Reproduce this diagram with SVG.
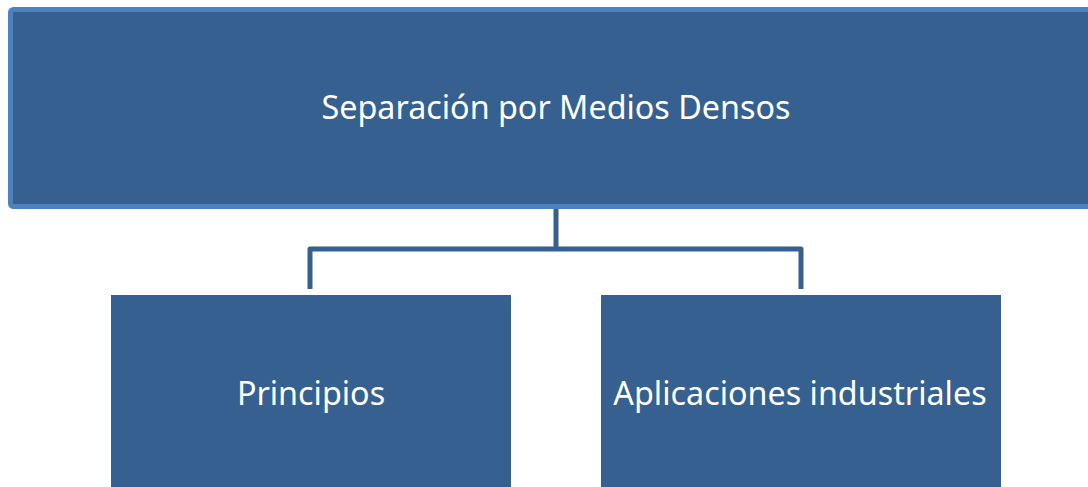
<svg xmlns="http://www.w3.org/2000/svg" width="1088" height="487" viewBox="0 0 1088 487">
<style>
.box{fill:#366090;}
.lbl{font-family:"Noto Sans","Liberation Sans",sans-serif;font-size:32.3px;fill:#ffffff;text-anchor:middle;}
.conn{fill:none;stroke:#366090;stroke-width:5;stroke-linejoin:round;}
</style>
<rect width="1088" height="487" fill="#ffffff"/>
<g id="connectors">
<path class="conn" d="M556,208 V249 M310,289 V249 H801 V289"/>
</g>
<g id="root">
<rect x="10.5" y="9.5" width="1090" height="197" rx="3" class="box" stroke="#4F81BD" stroke-width="5"/>
<text class="lbl" x="556" y="119">Separación por Medios Densos</text>
</g>
<g id="principios">
<rect x="111" y="295" width="400" height="192" class="box"/>
<text class="lbl" x="311" y="405">Principios</text>
</g>
<g id="aplicaciones">
<rect x="601" y="295" width="400" height="192" class="box"/>
<text class="lbl" x="800" y="405">Aplicaciones industriales</text>
</g>
</svg>
